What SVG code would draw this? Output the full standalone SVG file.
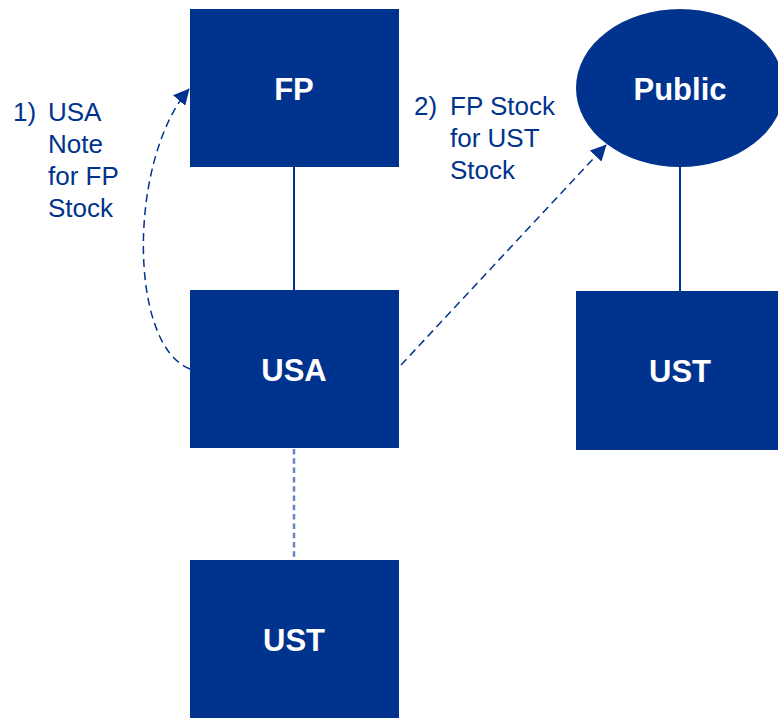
<svg xmlns="http://www.w3.org/2000/svg" width="778" height="718" viewBox="0 0 778 718">
  <style>
    .box { fill: #00338D; }
    .name { fill: #FFFFFF; font-family: "Liberation Sans", Arial, sans-serif; font-weight: bold; font-size: 31px; text-anchor: middle; }
    .note { fill: #00338D; font-family: "Liberation Sans", Arial, sans-serif; font-size: 26px; }
    .link { stroke: #00338D; stroke-width: 2; fill: none; }
    .flow { stroke: #00338D; stroke-width: 1.5; fill: none; stroke-dasharray: 8 5; }
    .dotted { stroke: #00338D; stroke-opacity: 0.6; stroke-width: 2.5; fill: none; stroke-dasharray: 5.5 3.8; }
  </style>
  <defs>
    <marker id="head" viewBox="0 0 10 10" refX="9" refY="5" markerWidth="11" markerHeight="11" markerUnits="userSpaceOnUse" orient="auto">
      <path d="M0,0 L10,5 L0,10 Z" fill="#00338D"/>
    </marker>
    <marker id="headLg" viewBox="0 0 10 10" refX="9.5" refY="5" markerWidth="16" markerHeight="16" markerUnits="userSpaceOnUse" orient="auto">
      <path d="M0,0 L10,5 L0,10 Z" fill="#00338D"/>
    </marker>
  </defs>

  <rect width="778" height="718" fill="#FFFFFF"/>

  <!-- connectors -->
  <g id="connectors">
    <line class="link" x1="294" y1="167" x2="294" y2="291"/>
    <line class="link" x1="680" y1="166" x2="680" y2="292"/>
    <line class="dotted" x1="294" y1="449" x2="294" y2="560"/>
    <path class="flow" d="M190,369 C128,345 128,160 189,89" marker-end="url(#headLg)"/>
    <path class="flow" d="M401,365 L606,145" marker-end="url(#headLg)"/>
  </g>

  <!-- nodes -->
  <g id="node-fp">
    <rect class="box" x="190" y="9" width="209" height="158"/>
    <text class="name" x="294" y="100">FP</text>
  </g>
  <g id="node-usa">
    <rect class="box" x="190" y="290" width="209" height="158"/>
    <text class="name" x="294" y="381">USA</text>
  </g>
  <g id="node-ust-lower">
    <rect class="box" x="190" y="560" width="209" height="158"/>
    <text class="name" x="294" y="651">UST</text>
  </g>
  <g id="node-public">
    <ellipse class="box" cx="680" cy="88" rx="104" ry="79"/>
    <text class="name" x="680" y="100">Public</text>
  </g>
  <g id="node-ust-right">
    <rect class="box" x="576" y="291" width="209" height="159"/>
    <text class="name" x="680" y="382">UST</text>
  </g>

  <!-- step notes -->
  <g id="note-1" class="note">
    <text x="13" y="121">1)</text>
    <text x="48" y="121">USA</text>
    <text x="48" y="153">Note</text>
    <text x="48" y="185">for FP</text>
    <text x="48" y="217">Stock</text>
  </g>
  <g id="note-2" class="note">
    <text x="414" y="115">2)</text>
    <text x="450" y="115">FP Stock</text>
    <text x="450" y="147">for UST</text>
    <text x="450" y="179">Stock</text>
  </g>
</svg>
